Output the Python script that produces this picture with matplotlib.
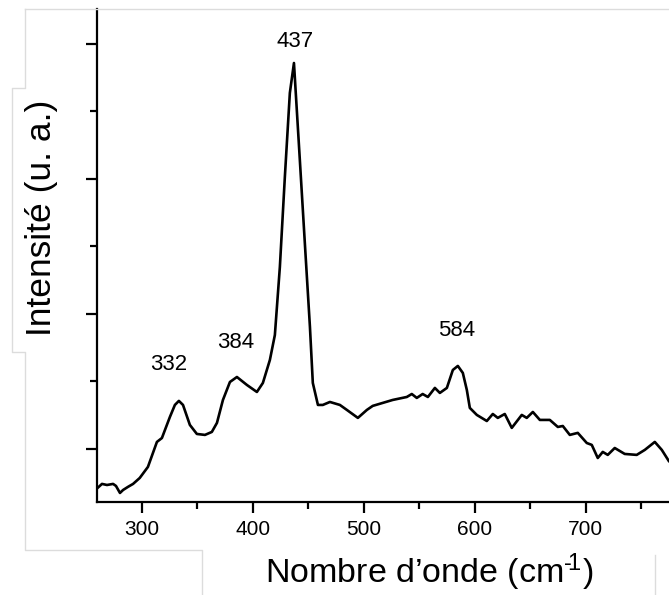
import matplotlib
matplotlib.use("Agg")
import matplotlib.pyplot as plt
from matplotlib.lines import Line2D
from matplotlib.ticker import MultipleLocator, NullFormatter

plt.rcParams['font.family'] = ['Liberation Sans', 'DejaVu Sans']
plt.rcParams['mathtext.fontset'] = 'custom'
plt.rcParams['mathtext.rm'] = 'Liberation Sans'
plt.rcParams['mathtext.default'] = 'regular'

# Raman shift (cm-1) and intensity (arbitrary units)
wavenumber = [260, 264, 268.5, 274, 276.6, 280.2, 283, 287.4, 292, 298, 305.4, 313.5, 318,
              325.2, 329.7, 333.3, 337, 343.2, 349.5, 356.8, 363, 367.6, 373, 379.3, 385.6,
              394.6, 403.6, 409, 415.3, 419.8, 424.3, 428.8, 433.3, 437, 442.3, 446.8, 451.4,
              454, 458.6, 463, 469.4, 478.4, 484.7, 494.6, 502.7, 508, 517, 526, 538.7, 543.2,
              547.7, 553, 557.7, 564, 568.5, 574.8, 580.2, 584.7, 589.2, 592.8, 595.5, 601.8,
              610.8, 616.2, 620.7, 627, 633.3, 642.3, 646.8, 652.3, 658.6, 667.6, 674.8, 679.3,
              685.6, 692.8, 700.9, 705.4, 710.8, 715.3, 719.8, 726.1, 735.1, 745.9, 753.2,
              762.2, 768.5, 774.8]
intensity = [-289, -259, -267, -259, -274, -326, -304, -281, -259, -215, -133, 52, 81,
             237, 326, 356, 326, 178, 111, 104, 126, 193, 363, 496, 533,
             474, 422, 489, 659, 844, 1348, 2015, 2637, 2859, 2141, 1526, 904,
             489, 326, 326, 348, 326, 289, 230, 289, 319, 341, 363, 385, 407,
             378, 407, 385, 452, 415, 452, 585, 615, 563, 437, 304, 252,
             207, 259, 230, 259, 156, 252, 230, 274, 215, 215, 163, 170,
             104, 119, 44, 30, -67, -22, -44, 7, -37, -44, -7,
             52, -7, -89]

peak_label_x = [324, 384.7, 437.8, 583.8]
peak_labels = ["332", "384", "437", "584"]
peak_label_y = [622, 785, 3015, 881]

xlabel = "Nombre d\u2019onde (cm$^{\u2010\\!1}$)"
ylabel = "Intensité (u. a.)"

W, H = 669, 595
fig = plt.figure(figsize=(W / 100, H / 100), dpi=100)
ax = fig.add_axes([97 / W, (H - 502) / H, 1 - 97 / W, (502 - 9) / H])

ax.plot(wavenumber, intensity, color='black', lw=1.9, solid_joinstyle='round')

ax.set_xlim(259.5, 775)
ax.set_ylim(-393, 3259)

for s in ['top', 'right']:
    ax.spines[s].set_visible(False)
for s in ['left', 'bottom']:
    ax.spines[s].set_linewidth(1.6)

ax.xaxis.set_major_locator(MultipleLocator(100))
ax.xaxis.set_minor_locator(MultipleLocator(50))
ax.yaxis.set_major_locator(MultipleLocator(1000))
ax.yaxis.set_minor_locator(MultipleLocator(500))
ax.yaxis.set_major_formatter(NullFormatter())
ax.tick_params(axis='both', which='major', direction='out', length=8, width=1.6,
               labelsize=15, pad=5)
ax.tick_params(axis='both', which='minor', direction='out', length=5, width=1.6)

for xp, lab, yp in zip(peak_label_x, peak_labels, peak_label_y):
    ax.text(xp, yp, lab, ha='center', va='center', fontsize=16)

fig.text(429 / W, 1 - 572 / H, xlabel, ha='center', va='center', fontsize=24.5)
fig.text(42 / W, 1 - 218 / H, ylabel, ha='center', va='center', rotation=90, fontsize=25.5)

# faint panel borders from the original composite figure
gray = '#dcdcdc'
def pline(xs, ys):
    fig.add_artist(Line2D([x / W for x in xs], [1 - y / H for y in ys],
                          color=gray, lw=1.0, transform=fig.transFigure))
pline([25, 669], [9, 9])
pline([25, 25, 12, 12, 25, 25, 202, 202], [9, 88, 88, 352, 352, 550, 550, 595])
pline([655, 655], [555, 595])

fig.savefig("out.png", dpi=100)
